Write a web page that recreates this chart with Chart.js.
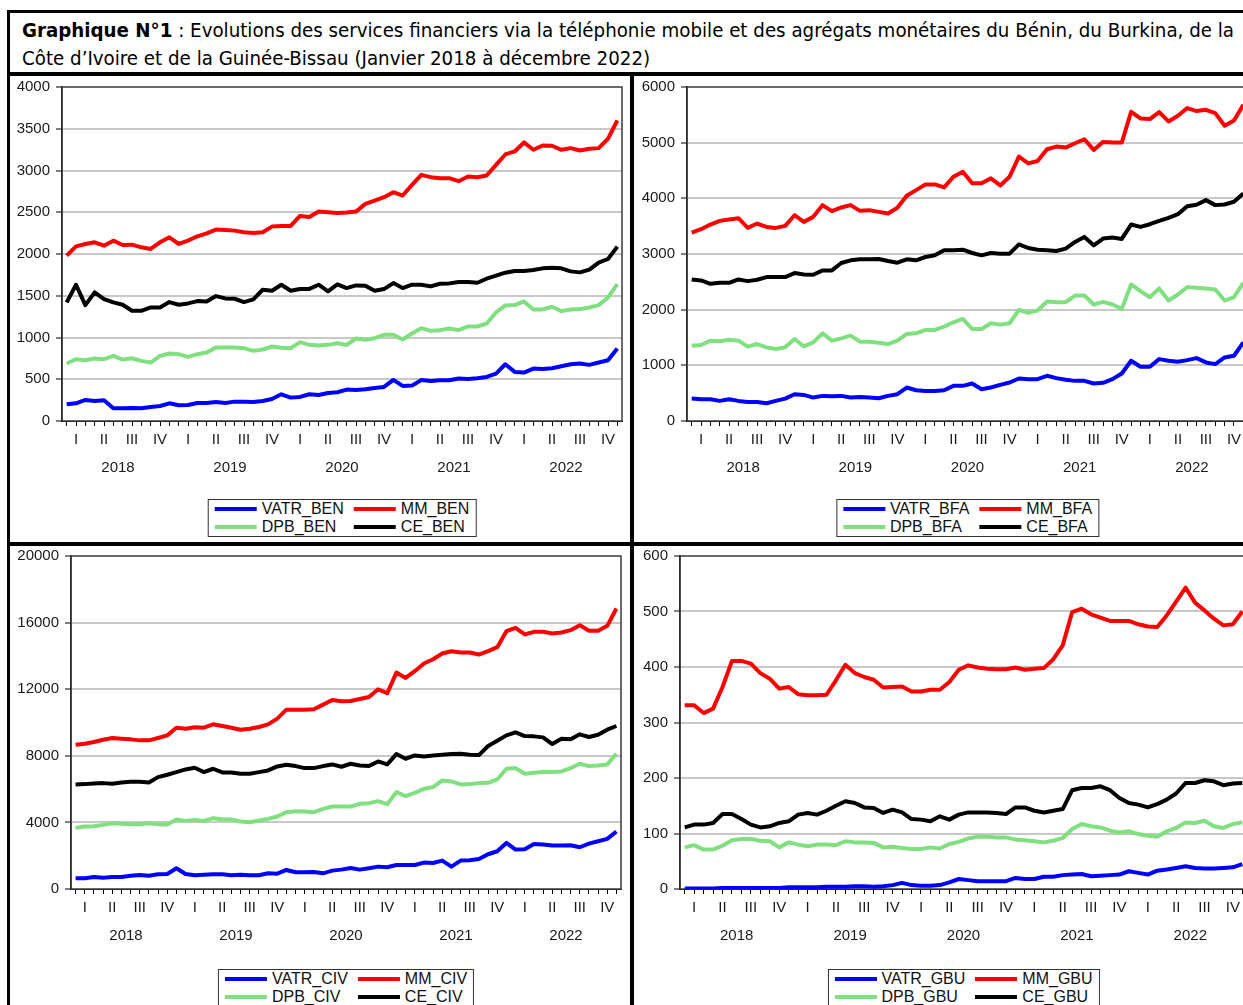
<!DOCTYPE html>
<html>
<head>
<meta charset="utf-8">
<script src="https://cdn.jsdelivr.net/npm/chart.js@4.4.0/dist/chart.umd.min.js"></script>
<style>
  body { margin: 0; background: #fff; width: 1243px; height: 1005px; overflow: hidden; position: relative;
         font-family: "Liberation Sans", Arial, sans-serif; }
  .bar { position: absolute; background: #000; }
  #outer { position: absolute; left: 7px; top: 10px; width: 1300px; height: 1100px; border: 3px solid #000; }
  #title { position: absolute; left: 22px; top: 16px; font-size: 20px; line-height: 28px; color: #000; white-space: nowrap;
           font-family: "Liberation Sans Narrow", "DejaVu Sans Condensed", "Liberation Sans", sans-serif; }
  #title span { display: inline-block; transform-origin: 0 0; }
  canvas { position: absolute; }
  .legend { position: absolute; transform: translateX(-50%); border: 1px solid #333; background: #fff;
            display: grid; grid-template-columns: auto auto; column-gap: 10px; padding: 0 6px; font-size: 16px; line-height: 18px; }
  .legend div { display: flex; align-items: center; white-space: nowrap; color: #111; }
  .legend i { display: inline-block; width: 42px; height: 4px; margin-right: 5px; }
</style>
</head>
<body>
<div id="outer"></div>
<div class="bar" style="left:7px;top:72px;width:1300px;height:4px"></div>
<div class="bar" style="left:630px;top:76px;width:4px;height:1000px"></div>
<div class="bar" style="left:7px;top:542px;width:1300px;height:4px"></div>
<div id="title"><span id="t1"><b>Graphique N°1</b> : Evolutions des services financiers via la téléphonie mobile et des agrégats monétaires du Bénin, du Burkina, de la</span><br><span id="t2">Côte d’Ivoire et de la Guinée-Bissau (Janvier 2018 à décembre 2022)</span></div>

<canvas id="cBEN" width="620" height="415" style="left:10px;top:76px"></canvas>
<canvas id="cBFA" width="626" height="415" style="left:634px;top:76px"></canvas>
<canvas id="cCIV" width="620" height="415" style="left:10px;top:546px"></canvas>
<canvas id="cGBU" width="626" height="415" style="left:634px;top:546px"></canvas>

<script>
// months Jan 2018 .. Dec 2022 (index 0..59)
const months = [];
for (let i = 0; i < 60; i++) months.push(i);
const quarterLabels = ['I', 'II', 'III', 'IV'];
const yearLabels = ['2018', '2019', '2020', '2021', '2022'];

const seriesColors = { VATR: '#0000ff', MM: '#ff0000', DPB: '#80e080', CE: '#000000' };

// Bénin
const vatrBen = [200,212,252,240,248,152,152,156,152,168,180,212,188,192,216,216,228,216,232,232,228,240,264,320,280,288,320,312,
  336,344,376,372,380,396,408,492,420,424,492,480,488,488,508,504,512,528,568,680,588,580,628,624,632,656,680,688,672,700,728,868];
const mmBen = [1980,2092,2120,2140,2100,2160,2108,2112,2080,2060,2140,2200,2120,2160,2212,2248,2292,2288,2280,2260,2252,2260,2328,2336,2336,
  2456,2444,2508,2500,2492,2496,2508,2600,2640,2680,2740,2700,2828,2948,2920,2908,2908,2872,2928,2920,2940,3068,3192,3228,3336,3248,3300,3296,3248,3268,3240,3260,3268,3380,3600];
const dpbBen = [688,740,728,748,740,780,736,752,720,700,780,808,800,768,800,820,880,880,880,872,840,856,892,876,872,
  944,912,904,912,932,912,988,972,992,1032,1032,976,1048,1112,1080,1088,1108,1088,1132,1132,1168,1300,1384,1388,1432,1336,1336,1368,1316,1336,1340,1360,1388,1480,1640];
const ceBen = [1420,1632,1388,1540,1460,1420,1392,1320,1320,1360,1360,1424,1392,1408,1436,1432,1496,1468,1464,1424,1456,1572,1560,1632,1560,
  1580,1582,1632,1552,1636,1592,1624,1620,1560,1580,1652,1592,1632,1632,1612,1644,1648,1664,1664,1656,1704,1740,1776,1796,1796,1808,1828,1836,1828,1792,1780,1812,1896,1940,2088];

// Burkina
const vatrBfa = [403,391,391,361,391,361,343,343,319,361,403,481,469,421,451,445,451,421,433,421,409,451,481,601,553,541,541,
  553,631,631,673,571,601,649,691,764,752,752,812,770,740,721,721,673,685,752,854,1082,974,974,1112,1082,1064,1094,1130,1052,1022,1142,1172,1413];
const mmBfa = [3385,3445,3529,3595,3619,3643,3469,3547,3487,3469,3505,3697,3577,3667,3878,3770,3836,3878,3775,3788,3757,3727,3830,4046,4148,4250,4250,
  4196,4389,4479,4269,4269,4359,4232,4389,4749,4629,4671,4882,4930,4912,4990,5062,4870,5014,5002,5002,5555,5435,5423,5549,5381,5483,5621,5567,5591,5531,5303,5399,5681];
const dpbBfa = [1353,1365,1443,1431,1461,1443,1335,1383,1323,1293,1323,1473,1341,1413,1575,1443,1485,1533,1425,1425,1407,1383,1443,1563,1575,1635,1635,1695,
  1773,1834,1653,1653,1756,1731,1756,1996,1942,1984,2146,2134,2134,2254,2254,2092,2140,2092,2014,2453,2333,2224,2381,2164,2273,2405,2393,2381,2363,2164,2224,2483];
const ceBfa = [2543,2525,2465,2483,2483,2543,2513,2537,2585,2585,2585,2657,2633,2627,2705,2705,2838,2886,2904,2904,2910,2874,2844,2904,2886,2946,2976,
  3066,3066,3078,3018,2976,3018,3006,3006,3174,3108,3078,3066,3054,3096,3216,3307,3156,3277,3295,3271,3529,3487,3535,3595,3649,3715,3859,3884,3968,3878,3890,3938,4088];

// Côte d'Ivoire
const vatrCiv = [642,642,722,682,722,722,802,843,802,883,903,1244,903,822,863,883,883,822,863,822,822,943,923,1143,1003,1003,
  1023,943,1103,1163,1264,1163,1244,1344,1304,1444,1444,1444,1585,1565,1705,1344,1705,1725,1805,2086,2267,2768,2367,2387,2708,2668,2608,2608,2628,2508,2728,2869,3009,3450];
const mmCiv = [8666,8726,8826,8967,9067,9027,8987,8927,8927,9067,9228,9689,9629,9709,9689,9890,9790,9689,9569,9629,9729,9890,10231,10772,10772,10772,
  10792,11073,11354,11274,11294,11414,11535,11996,11755,12999,12678,13079,13541,13801,14142,14283,14203,14203,14082,14283,14523,15486,15687,15286,15446,15446,15346,15406,15547,15847,15506,15506,15807,16850];
const dpbCiv = [3671,3751,3771,3852,3952,3912,3892,3892,3952,3892,3872,4172,4092,4152,4092,4253,4193,4172,4052,4012,4112,4213,4353,4614,4674,4654,
  4614,4814,4955,4955,4955,5115,5155,5276,5095,5817,5577,5777,6018,6118,6520,6459,6279,6299,6359,6379,6580,7222,7262,6921,6981,7021,7021,7061,7262,7523,7382,7422,7482,8124];
const ceCiv = [6279,6299,6339,6359,6319,6399,6439,6439,6399,6720,6861,7021,7181,7282,7021,7222,7001,7001,6921,6921,7021,7121,7362,7462,7382,7262,
  7262,7382,7482,7342,7522,7422,7382,7663,7482,8104,7823,8024,7964,8024,8064,8104,8124,8064,8044,8586,8906,9228,9408,9187,9167,9107,8706,9027,8987,9288,9127,9268,9569,9789];

// Guinée-Bissau
const vatrGbu = [1,1,1,1,2,2,2,2,2,2,2,3,3,3,3,4,4,4,5,5,4,5,7,11,7,6,
  6,7,12,18,16,14,14,14,14,20,18,18,22,22,25,26,27,23,24,25,26,32,29,26,33,35,38,41,38,37,37,38,39,45];
const mmGbu = [331,331,317,325,364,411,411,406,389,379,361,364,351,349,349,350,376,404,389,382,377,363,364,365,356,356,
  359,359,373,395,403,399,397,396,396,399,395,397,398,414,439,499,505,495,489,483,483,483,477,473,472,493,518,543,516,502,487,475,477,500];
const dpbGbu = [75,79,71,71,78,88,90,90,87,86,75,84,80,77,80,80,79,86,84,84,83,75,76,74,72,72,
  75,73,81,85,91,94,94,93,93,89,88,86,84,87,92,108,117,113,111,105,102,104,99,96,94,104,110,120,119,123,113,110,117,120];
const ceGbu = [111,116,116,119,135,135,126,116,111,113,119,122,134,137,134,141,150,158,155,147,146,137,143,138,126,125,
  122,131,125,134,138,138,138,137,135,147,147,141,138,141,144,178,182,182,185,178,164,155,152,147,153,161,172,191,191,196,194,187,190,191];

const tickFont = { family: '"Liberation Sans", Arial, sans-serif', size: 15 };
const tickColor = '#1a1a1a';

const framePlugin = {
  id: 'frame',
  beforeDatasetsDraw(chart) {
    const { ctx, chartArea: a } = chart;
    ctx.save();
    ctx.strokeStyle = '#3a3a3a';
    ctx.lineWidth = 1.5;
    ctx.strokeRect(a.left, a.top, a.right - a.left, a.bottom - a.top);
    ctx.restore();
  }
};

function makeChart(id, code, yMax, yStep, yWidth, pad, values) {
  const names = ['VATR', 'MM', 'DPB', 'CE'];
  const datasets = names.map((n, k) => ({
    label: n + '_' + code,
    data: values[k].map((v, i) => ({ x: months[i], y: v })),
    borderColor: seriesColors[n],
    backgroundColor: seriesColors[n],
    borderWidth: 4,
    pointRadius: 0,
    tension: 0,
    borderJoinStyle: 'round'
  }));

  const chart = new Chart(document.getElementById(id), {
    type: 'line',
    data: { datasets: datasets },
    options: {
      responsive: false,
      animation: false,
      devicePixelRatio: 1,
      layout: { padding: pad },
      plugins: { legend: { display: false }, tooltip: { enabled: false } },
      scales: {
        x: {
          type: 'linear', position: 'bottom', min: -0.5, max: 59.5, weight: 0,
          afterBuildTicks: s => { s.ticks = months.map(m => ({ value: m })); },
          afterFit: s => { s.height = 34; s.paddingLeft = 0; s.paddingRight = 0; },
          ticks: {
            autoSkip: false, maxRotation: 0, padding: 5, font: tickFont, color: tickColor,
            callback: v => (v % 3 === 1 ? quarterLabels[((v % 12) - 1) / 3] : '')
          },
          grid: { drawOnChartArea: false, tickLength: 5, tickColor: '#000', lineWidth: 1 },
          border: { color: '#000', width: 1 }
        },
        yr: {
          type: 'linear', position: 'bottom', min: -0.5, max: 59.5, weight: 1,
          afterBuildTicks: s => { s.ticks = yearLabels.map((y, k) => ({ value: k * 12 + 5.5 })); },
          afterFit: s => { s.height = 30; s.paddingLeft = 0; s.paddingRight = 0; },
          ticks: {
            autoSkip: false, maxRotation: 0, padding: 4, font: tickFont, color: tickColor,
            callback: v => yearLabels[Math.round((v - 5.5) / 12)]
          },
          grid: { display: false, drawTicks: false },
          border: { display: false }
        },
        y: {
          min: 0, max: yMax,
          afterFit: s => { s.width = yWidth; s.paddingTop = 0; s.paddingBottom = 0; },
          ticks: { stepSize: yStep, padding: 6, font: tickFont, color: tickColor, callback: v => String(v) },
          grid: {
            color: c => (c.tick.value === 0 || c.tick.value === yMax) ? 'rgba(0,0,0,0)' : '#c8c8c8',
            lineWidth: 2, tickLength: 6, tickColor: '#000', tickWidth: 1
          },
          border: { color: '#000', width: 1.5 }
        }
      }
    },
    plugins: [framePlugin]
  });

  // legend box under the chart area, built from the dataset names and colours
  const canvas = document.getElementById(id);
  const box = document.createElement('div');
  box.className = 'legend';
  datasets.forEach(d => {
    const item = document.createElement('div');
    const sw = document.createElement('i');
    sw.style.background = d.borderColor;
    item.appendChild(sw);
    item.appendChild(document.createTextNode(d.label));
    box.appendChild(item);
  });
  const a = chart.chartArea;
  box.style.left = (canvas.offsetLeft + (a.left + a.right) / 2) + 'px';
  box.style.top = (canvas.offsetTop + 423) + 'px';
  document.body.appendChild(box);
  return chart;
}

makeChart('cBEN', 'BEN', 4000, 500, 52, { top: 11, right: 8, bottom: 6, left: 0 }, [vatrBen, mmBen, dpbBen, ceBen]);
makeChart('cBFA', 'BFA', 6000, 1000, 53, { top: 11, right: 12, bottom: 6, left: 0 }, [vatrBfa, mmBfa, dpbBfa, ceBfa]);
makeChart('cCIV', 'CIV', 20000, 4000, 61, { top: 10, right: 9, bottom: 8, left: 0 }, [vatrCiv, mmCiv, dpbCiv, ceCiv]);
makeChart('cGBU', 'GBU', 600, 100, 46, { top: 10, right: 13, bottom: 8, left: 0 }, [vatrGbu, mmGbu, dpbGbu, ceGbu]);

// stretch the title so the first line fills the box width
const t1 = document.getElementById('t1');
const t2 = document.getElementById('t2');
const k = 1212 / t1.getBoundingClientRect().width;
t1.style.transform = 'scaleX(' + k + ')';
t2.style.transform = 'scaleX(' + k + ')';
</script>
</body>
</html>
